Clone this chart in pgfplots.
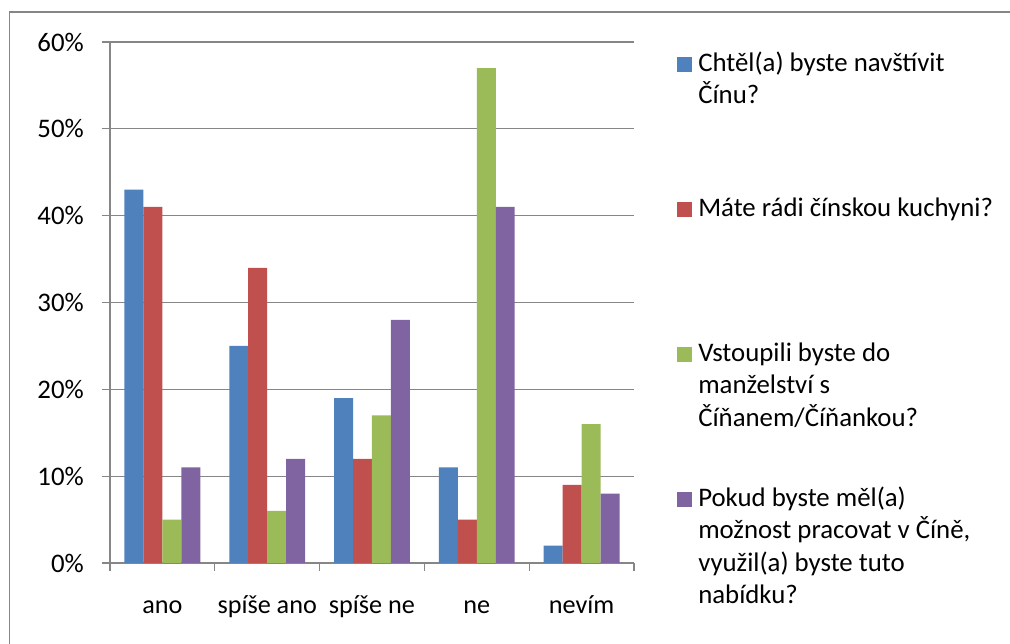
\documentclass[border=0pt]{standalone}
\usepackage{pgfplots}
\pgfplotsset{compat=1.18}
\usepackage{fontspec}
\setmainfont{Carlito}
\definecolor{sblue}{HTML}{4F81BD}
\definecolor{sred}{HTML}{C0504D}
\definecolor{sgreen}{HTML}{9BBB59}
\definecolor{spurple}{HTML}{8064A2}
\definecolor{axgray}{HTML}{868686}
\newcommand\cfont{\fontsize{26.8}{32.3}\selectfont}
\newcommand\tfont{\fontsize{26.2}{32}\selectfont}
\newcommand\legtxt[1]{\begin{tabular}[t]{@{}l@{}}#1\end{tabular}}
\begin{document}
\begin{tikzpicture}[x=1pt,y=1pt]
\useasboundingbox (0,0) rectangle (1010,644);
\draw[axgray, line width=1.2pt] (9.8,-10) -- (9.8,632) -- (1020,632);
\begin{axis}[
  at={(110pt,81pt)}, anchor=south west,
  scale only axis, width=524pt, height=521pt,
  xmin=-0.5, xmax=4.5, ymin=0, ymax=60,
  axis x line*=bottom, axis y line*=left,
  axis line style={axgray, line width=1.2pt},
  ytick={0,10,...,60}, yticklabels={0\%,10\%,20\%,30\%,40\%,50\%,60\%},
  xtick={0,...,4}, xticklabels={ano,spíše ano,spíše ne,ne,nevím},
  minor xtick={-0.5,0.5,1.5,2.5,3.5,4.5},
  tick align=outside,
  major tick length=8pt, minor tick length=8pt,
  tick style={axgray, line width=1.2pt},
  major x tick style={draw=none},
  ymajorgrids, grid style={axgray, line width=1.2pt},
  yticklabel style={font=\cfont, inner sep=0pt, anchor=east, xshift=-18pt},
  xticklabel style={font=\tfont, inner sep=0pt, anchor=base, yshift=-42.5pt},
  ybar, bar width=0.181,
  legend image code/.code={\fill (0pt,0pt) rectangle (14.4pt,14.4pt);},
  legend style={at={(1.0826,0.9814)}, anchor=north west, draw=none, fill=none,
    inner sep=0pt, outer sep=0pt, row sep=0pt, column sep=6.6pt, font=\cfont,
    nodes={inner sep=0pt, text height=20pt, text depth=125pt},
    cells={anchor=base west}},
]
\addplot[fill=sblue, draw=none, bar shift=-0.2715] coordinates {(0,43) (1,25) (2,19) (3,11) (4,2)};
\addlegendentry{\legtxt{Chtěl(a) byste navštívit\\Čínu?}}
\addplot[fill=sred, draw=none, bar shift=-0.0905] coordinates {(0,41) (1,34) (2,12) (3,5) (4,9)};
\addlegendentry{\legtxt{Máte rádi čínskou kuchyni?}}
\addplot[fill=sgreen, draw=none, bar shift=0.0905] coordinates {(0,5) (1,6) (2,17) (3,57) (4,16)};
\addlegendentry{\legtxt{Vstoupili byste do\\manželství s\\Číňanem/Číňankou?}}
\addplot[fill=spurple, draw=none, bar shift=0.2715] coordinates {(0,11) (1,12) (2,28) (3,41) (4,8)};
\addlegendentry{\legtxt{Pokud byste měl(a)\\možnost pracovat v Číně,\\využil(a) byste tuto\\nabídku?}}
\end{axis}
\end{tikzpicture}
\end{document}
